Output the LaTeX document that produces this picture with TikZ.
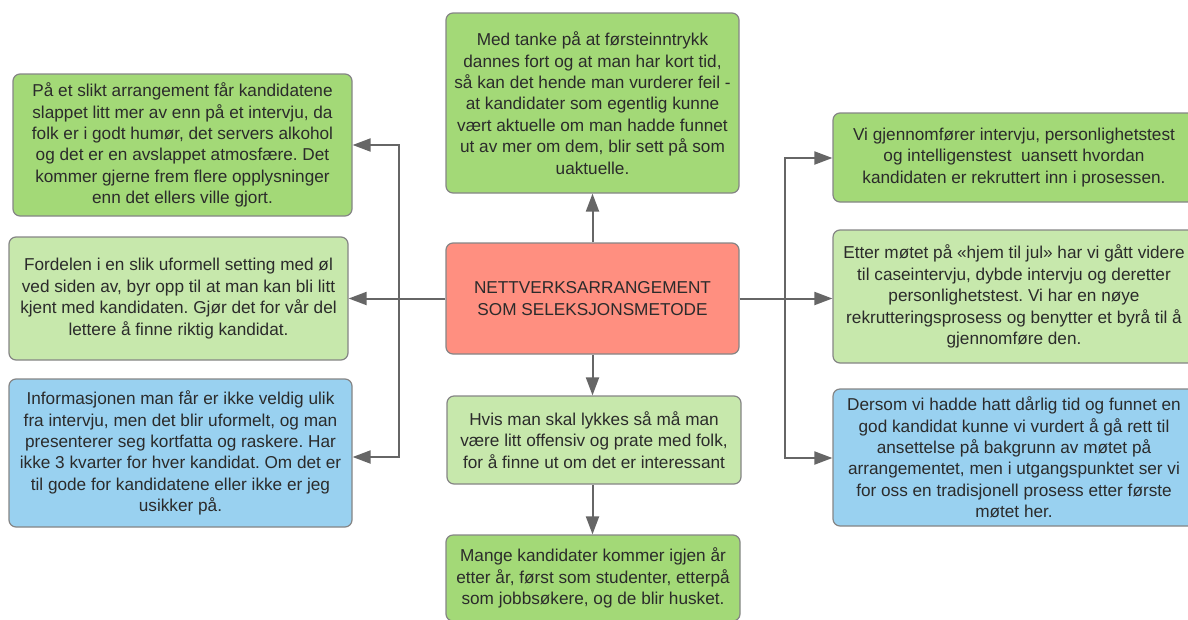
\documentclass[tikz,border=0pt]{standalone}
\usepackage{fontspec}
\setmainfont{Liberation Sans}
\usetikzlibrary{arrows.meta}
\definecolor{boxgreen}{HTML}{A3D977}
\definecolor{boxlight}{HTML}{C7E8AC}
\definecolor{boxblue}{HTML}{99D1F0}
\definecolor{boxred}{HTML}{FF8F80}
\definecolor{edgegray}{HTML}{858585}
\definecolor{linkgray}{HTML}{666666}
\definecolor{txt}{HTML}{2B2B2B}
\frenchspacing
\begin{document}
\begin{tikzpicture}[x=1pt,y=-1pt,
  card/.style={draw=edgegray, line width=1.2pt, rounded corners=7pt,
    align=center, text=txt, inner sep=0pt,
    font=\fontsize{17.2}{21.4}\selectfont},
  tip/.tip={Triangle[length=18pt,width=13pt]},
  link/.style={draw=linkgray, line width=2pt, -tip},
  twolink/.style={draw=linkgray, line width=2pt, tip-tip},
]
\useasboundingbox (0,0) rectangle (1188,619);

% centre
\node[card, fill=boxred, minimum width=293pt, minimum height=111pt]
  (C) at (592.5,298.5) {NETTVERKSARRANGEMENT\\SOM SELEKSJONSMETODE};

% top and bottom column
\node[card, fill=boxgreen, minimum width=293pt, minimum height=180pt]
  (T) at (592.5,103) {Med tanke på at førsteinntrykk\\dannes fort og at man har kort tid,\\så kan det hende man vurderer feil -\\at kandidater som egentlig kunne\\vært aktuelle om man hadde funnet\\ut av mer om dem, blir sett på som\\uaktuelle.};
\node[card, fill=boxlight, minimum width=294pt, minimum height=88pt]
  (B1) at (594,440) {Hvis man skal lykkes så må man\\være litt offensiv og prate med folk,\\for å finne ut om det er interessant};
\node[card, fill=boxgreen, minimum width=294pt, minimum height=86pt]
  (B2) at (593,578) {Mange kandidater kommer igjen år\\etter år, først som studenter, etterpå\\som jobbsøkere, og de blir husket.};

% left column
\node[card, fill=boxgreen, minimum width=339pt, minimum height=142pt]
  (L1) at (182.5,145) {På et slikt arrangement får kandidatene\\slappet litt mer av enn på et intervju, da\\folk er i godt humør, det servers alkohol\\og det er en avslappet atmosfære. Det\\kommer gjerne frem flere opplysninger\\enn det ellers ville gjort.};
\node[card, fill=boxlight, minimum width=339pt, minimum height=123pt]
  (L2) at (178.5,298.5) {Fordelen i en slik uformell setting med øl\\ved siden av, byr opp til at man kan bli litt\\kjent med kandidaten. Gjør det for vår del\\lettere å finne riktig kandidat.};
\node[card, fill=boxblue, minimum width=343pt, minimum height=148pt]
  (L3) at (180.5,453) {Informasjonen man får er ikke veldig ulik\\fra intervju, men det blir uformelt, og man\\presenterer seg kortfatta og raskere. Har\\ikke 3 kvarter for hver kandidat. Om det er\\til gode for kandidatene eller ikke er jeg\\usikker på.};

% right column
\node[card, fill=boxgreen, minimum width=362pt, minimum height=89pt]
  (R1) at (1014,157.5) {Vi gjennomfører intervju, personlighetstest\\og intelligenstest\ \ uansett hvordan\\kandidaten er rekruttert inn i prosessen.};
\node[card, fill=boxlight, minimum width=362pt, minimum height=133pt]
  (R2) at (1014,296.5) {Etter møtet på «hjem til jul» har vi gått videre\\til caseintervju, dybde intervju og deretter\\personlighetstest. Vi har en nøye\\rekrutteringsprosess og benytter et byrå til å\\gjennomføre den.};
\node[card, fill=boxblue, minimum width=362pt, minimum height=137pt]
  (R3) at (1014,457.5) {Dersom vi hadde hatt dårlig tid og funnet en\\god kandidat kunne vi vurdert å gå rett til\\ansettelse på bakgrunn av møtet på\\arrangementet, men i utgangspunktet ser vi\\for oss en tradisjonell prosess etter første\\møtet her.};

% trunk corners
\coordinate (lt) at (399,145);
\coordinate (lb) at (399,457);
\coordinate (rt) at (785,158);
\coordinate (rb) at (785,458);

% connectors
\draw[link] (C.north) -- (T.south);
\draw[link] (C.south) -- (C.south |- B1.north);
\draw[link] (C.south |- B1.south) -- (C.south |- B2.north);
\draw[link] (C.west) -- (C.west -| L2.east);
\draw[link] (C.east) -- (C.east -| R2.west);
\draw[twolink] (lt -| L1.east) -- (lt) -- (lb) -- (lb -| L3.east);
\draw[twolink] (rt -| R1.west) -- (rt) -- (rb) -- (rb -| R3.west);
\end{tikzpicture}
\end{document}
